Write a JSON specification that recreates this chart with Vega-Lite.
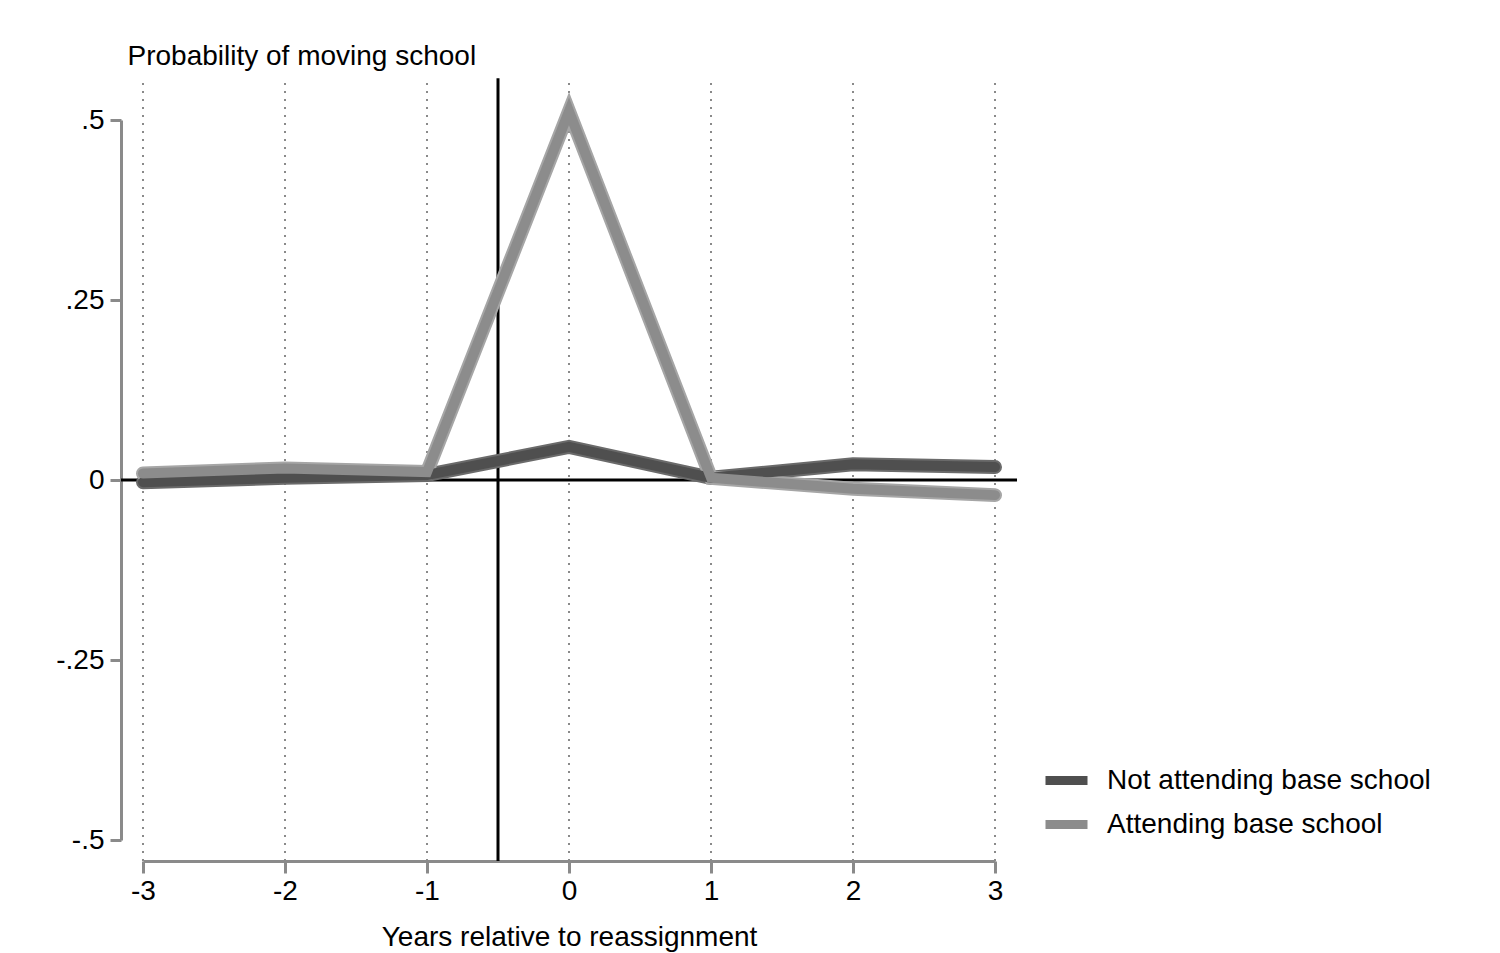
{
  "$schema": "https://vega.github.io/schema/vega-lite/v6.json",
  "width": 852,
  "height": 720,
  "autosize": "none",
  "padding": {"left": 143, "top": 120, "right": 505, "bottom": 113},
  "background": "white",
  "config": {
    "view": {"stroke": null},
    "font": "Liberation Sans",
    "axis": {"grid": false, "labelFont": "Liberation Sans", "titleFont": "Liberation Sans"}
  },
  "datasets": {
    "lines": [
      {"series": "Not attending base school", "x": -3, "y": -0.003},
      {"series": "Not attending base school", "x": -2, "y": 0.003},
      {"series": "Not attending base school", "x": -1, "y": 0.007},
      {"series": "Not attending base school", "x": 0, "y": 0.046},
      {"series": "Not attending base school", "x": 1, "y": 0.003},
      {"series": "Not attending base school", "x": 2, "y": 0.022},
      {"series": "Not attending base school", "x": 3, "y": 0.018},
      {"series": "Attending base school", "x": -3, "y": 0.009},
      {"series": "Attending base school", "x": -2, "y": 0.016},
      {"series": "Attending base school", "x": -1, "y": 0.011},
      {"series": "Attending base school", "x": 0, "y": 0.512},
      {"series": "Attending base school", "x": 1, "y": 0.003},
      {"series": "Attending base school", "x": 2, "y": -0.012},
      {"series": "Attending base school", "x": 3, "y": -0.021}
    ],
    "grid": [
      {"x": -3, "y": -0.529, "y2": 0.558},
      {"x": -2, "y": -0.529, "y2": 0.558},
      {"x": -1, "y": -0.529, "y2": 0.558},
      {"x": 0, "y": -0.529, "y2": 0.558},
      {"x": 1, "y": -0.529, "y2": 0.558},
      {"x": 2, "y": -0.529, "y2": 0.558},
      {"x": 3, "y": -0.529, "y2": 0.558}
    ],
    "vline": [{"x": -0.5, "y": -0.529, "y2": 0.558}],
    "hline": [{"x": -3.155, "x2": 3.155, "y": 0}]
  },
  "encoding": {
    "x": {
      "field": "x", "type": "quantitative",
      "scale": {"domain": [-3, 3], "nice": false, "zero": false},
      "axis": {
        "title": "Years relative to reassignment",
        "values": [-3, -2, -1, 0, 1, 2, 3],
        "labelExpr": "toString(datum.value)",
        "labelFlush": false,
        "labelOverlap": false,
        "offset": 21,
        "domainColor": "#8a8a8a", "domainWidth": 3,
        "tickColor": "#8a8a8a", "tickWidth": 3, "tickSize": 12,
        "labelFontSize": 28, "labelColor": "#000000", "labelPadding": 4,
        "titleFontSize": 28, "titleFontWeight": "normal", "titleColor": "#000000", "titlePadding": 18
      }
    },
    "y": {
      "field": "y", "type": "quantitative",
      "scale": {"domain": [-0.5, 0.5], "nice": false, "zero": false},
      "axis": {
        "title": "Probability of moving school",
        "values": [-0.5, -0.25, 0, 0.25, 0.5],
        "labelExpr": "replace(toString(datum.value), '0.', '.')",
        "labelFlush": false,
        "labelOverlap": false,
        "offset": 22,
        "domainColor": "#8a8a8a", "domainWidth": 3,
        "tickColor": "#8a8a8a", "tickWidth": 3, "tickSize": 11,
        "labelFontSize": 28, "labelColor": "#000000", "labelPadding": 6,
        "titleFontSize": 28, "titleFontWeight": "normal", "titleColor": "#000000",
        "titleAngle": 0, "titleAlign": "left", "titleBaseline": "alphabetic",
        "titleX": 6, "titleY": -56
      }
    }
  },
  "layer": [
    {
      "data": {"name": "grid"},
      "mark": {"type": "rule", "color": "#8a8a8a", "strokeWidth": 2, "strokeDash": [2, 6]},
      "encoding": {"y2": {"field": "y2"}}
    },
    {
      "data": {"name": "hline"},
      "mark": {"type": "rule", "color": "#000000", "strokeWidth": 3},
      "encoding": {"x2": {"field": "x2"}}
    },
    {
      "data": {"name": "vline"},
      "mark": {"type": "rule", "color": "#000000", "strokeWidth": 3},
      "encoding": {"y2": {"field": "y2"}}
    },
    {
      "data": {"name": "lines"},
      "mark": {"type": "line", "strokeWidth": 14, "strokeCap": "round", "strokeJoin": "miter", "strokeMiterLimit": 20},
      "encoding": {
        "color": {
          "field": "series", "type": "nominal",
          "scale": {"domain": ["Not attending base school", "Attending base school"], "range": ["#6a6a6a", "#a6a6a6"]},
          "legend": null
        }
      }
    },
    {
      "data": {"name": "lines"},
      "mark": {"type": "line", "strokeWidth": 10, "strokeCap": "round", "strokeJoin": "miter", "strokeMiterLimit": 20},
      "encoding": {
        "color": {
          "field": "series", "type": "nominal", "sort": null,
          "scale": {"domain": ["Not attending base school", "Attending base school"], "range": ["#4f4f4f", "#8c8c8c"]},
          "legend": {
            "title": null,
            "orient": "none",
            "legendX": 898,
            "legendY": 635,
            "padding": 0,
            "symbolType": "stroke",
            "symbolStrokeWidth": 9,
            "symbolSize": 1764,
            "labelFontSize": 28,
            "labelColor": "#000000",
            "labelOffset": 15,
            "labelLimit": 0,
            "rowPadding": -2,
            "labelFont": "Liberation Sans"
          }
        }
      }
    }
  ],
  "resolve": {"scale": {"color": "independent"}}
}
